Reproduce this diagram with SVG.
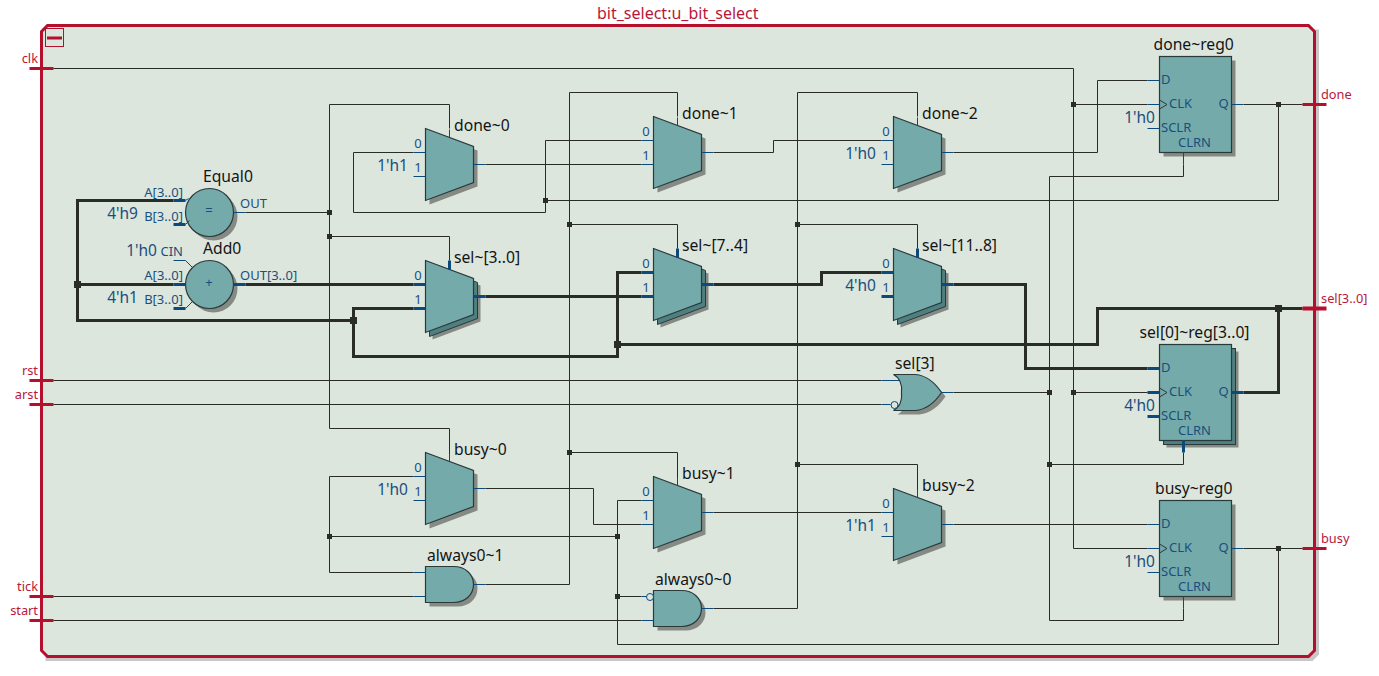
<svg xmlns="http://www.w3.org/2000/svg" xmlns:xlink="http://www.w3.org/1999/xlink" width="1379" height="676" viewBox="0 0 1379 676">
<style>
text{font-family:"Noto Sans","Open Sans","Liberation Sans",sans-serif;transform:translate(-.5px,-1px)}
.bg{fill:#dde6dd}
.frame{fill:#dde6dd;stroke:#b50f2e;stroke-width:3}
.fshadow{fill:#c8c8c8}
.w{fill:none;stroke:#2a2c28;stroke-width:1}
.t{fill:none;stroke:#2a2c28;stroke-width:3}
.j{fill:#2a2c28}
.body{fill:#74aaaa;stroke:#2a3a3a;stroke-width:1.2}
.stack{fill:#4f7f80;stroke:#2a3a3a;stroke-width:1}
.sh{fill:#868a84;stroke:none}
.s{fill:none;stroke:#0b4a7a;stroke-width:1}
.S{fill:none;stroke:#0b4a7a;stroke-width:3}
.port{stroke:#b50f2e;stroke-width:3;fill:none}
.portb{stroke:#b50f2e;stroke-width:4;fill:none}
.name{font-size:15.700px;fill:#141414}
.pin{font-size:13px;fill:#1a4f7d}
.const{font-size:15.500px;fill:#1a4f7d}
.plabel{font-size:12.800px;fill:#b8173a}
.title{font-size:16px;fill:#b8173a}
.e{text-anchor:end}
.m{text-anchor:middle}
.bub{fill:#dde6dd;stroke:#0b4a7a;stroke-width:1}
</style>
<defs>
<path id="mux" d="M0,0L48,18V54L0,72Z"/>
<rect id="ff" width="72" height="96"/>
<circle id="cir" r="24"/>
<path id="and" d="M0,0H28C40,0 48,8 48,18C48,28 40,36 28,36H0Z"/>
<path id="or" d="M0,0C6,3 9,10 8,18C9,26 6,33 0,36H22C33,35 42,27 48,18C42,9 33,1 22,0Z"/>
<path id="clk" d="M0,-4.500L7.500,0L0,4.500"/>
<rect id="jn" x="-2.500" y="-2.500" width="5" height="5"/>
<rect id="jt" x="-3.500" y="-3.500" width="7" height="7"/>
</defs>
<g transform="translate(.5 .5)">
<g id="frame">
<path class="fshadow" d="M49,29H1318.500V654L1312,660.500H45V650H1314V29Z"/>
<path class="frame" d="M47,25H1308L1314,31V650L1308,656H47L41,650V31Z"/>
<text class="title" x="597" y="19">bit_select:u_bit_select</text>
<g id="collapse"><rect x="45" y="28" width="18" height="18" fill="none" stroke="#b50f2e"/><rect x="46.500" y="36" width="15" height="3" fill="#b50f2e"/></g>
</g>
<g id="connectors">
<path class="w" d="M53,68H1073V548H1147M1073,104H1147M1073,392H1147"/>
<path class="w" d="M53,380H881M53,404H881"/>
<path class="w" d="M53,596H413M53,620H641"/>
<path class="w" d="M449,128V104H329V428H449V461M329,236H449V260"/>
<path class="w" d="M245,212H329"/>
<path class="w" d="M413,152H353V212H545V140H641M545,200H1278M1278,104V200"/>
<path class="w" d="M485,164H641"/>
<path class="w" d="M713,152H773V140H881"/>
<path class="w" d="M953,152H1097V80H1147"/>
<path class="w" d="M677,116V92H569V584H485M569,224H677V248M569,452H677V485"/>
<path class="w" d="M917,116V92H797V608H713M797,224H917V248M797,464H917V497"/>
<path class="w" d="M1183,164V176H1049V620H1183V608M1049,464H1183V452"/>
<path class="w" d="M953,392H1049"/>
<path class="w" d="M1243,104H1302M1243,548H1302"/>
<path class="w" d="M413,476H329V572H413M329,536H617"/>
<path class="w" d="M641,500H617V644H1278V548M617,596H641"/>
<path class="w" d="M485,488H593V524H641"/>
<path class="w" d="M713,512H881"/>
<path class="w" d="M953,524H1147"/>
<path class="t" d="M173,200H77V320H353M77,284H173"/>
<path class="t" d="M245,284H413"/>
<path class="t" d="M413,308H353V356H617V272H641"/>
<path class="t" d="M617,344H1097V308H1302M1278,308V392H1243"/>
<path class="t" d="M485,296H641"/>
<path class="t" d="M713,284H821V272H881"/>
<path class="t" d="M953,284H1025V368H1147"/>
<g class="j">
<use xlink:href="#jn" href="#jn" x="329" y="212"/><use xlink:href="#jn" href="#jn" x="329" y="236"/><use xlink:href="#jn" href="#jn" x="329" y="536"/>
<use xlink:href="#jn" href="#jn" x="545" y="200"/><use xlink:href="#jn" href="#jn" x="569" y="224"/><use xlink:href="#jn" href="#jn" x="569" y="452"/>
<use xlink:href="#jn" href="#jn" x="617" y="536"/><use xlink:href="#jn" href="#jn" x="617" y="596"/>
<use xlink:href="#jn" href="#jn" x="797" y="224"/><use xlink:href="#jn" href="#jn" x="797" y="464"/>
<use xlink:href="#jn" href="#jn" x="1049" y="392"/><use xlink:href="#jn" href="#jn" x="1049" y="464"/>
<use xlink:href="#jn" href="#jn" x="1073" y="104"/><use xlink:href="#jn" href="#jn" x="1073" y="392"/>
<use xlink:href="#jn" href="#jn" x="1278" y="104"/><use xlink:href="#jn" href="#jn" x="1278" y="548"/>
<use xlink:href="#jt" href="#jt" x="77" y="284"/><use xlink:href="#jt" href="#jt" x="353" y="320"/><use xlink:href="#jt" href="#jt" x="617" y="344"/><use xlink:href="#jt" href="#jt" x="1278" y="308"/>
</g>
</g>
<g id="ports">
<g id="port_clk"><path class="port" d="M29,68H53"/><text class="plabel e" x="38" y="63">clk</text></g>
<g id="port_rst"><path class="port" d="M29,380H53"/><text class="plabel e" x="38" y="375">rst</text></g>
<g id="port_arst"><path class="port" d="M29,404H53"/><text class="plabel e" x="38" y="399">arst</text></g>
<g id="port_tick"><path class="port" d="M29,596H53"/><text class="plabel e" x="38" y="591">tick</text></g>
<g id="port_start"><path class="port" d="M29,620H53"/><text class="plabel e" x="38" y="615">start</text></g>
<g id="port_done"><path class="port" d="M1302,104H1326"/><text class="plabel" x="1321" y="99">done</text></g>
<g id="port_sel"><path class="portb" d="M1302,308H1326"/><text class="plabel" x="1321" y="303">sel[3..0]</text></g>
<g id="port_busy"><path class="port" d="M1302,548H1326"/><text class="plabel" x="1321" y="543">busy</text></g>
</g>
<g id="Equal0" transform="translate(209,212)">
<use xlink:href="#cir" href="#cir" class="sh" x="4" y="4"/><use xlink:href="#cir" href="#cir" class="body"/>
<path class="s" d="M-24,-12L-21,-14M-24,12L-20,8M24,0H36"/><path class="S" d="M-36,-12H-24M-36,12H-24"/>
<text class="pin m" y="3">=</text>
<text class="name" x="-6" y="-30">Equal0</text>
<text class="pin e" x="-26" y="-15">A[3..0]</text><text class="pin e" x="-26" y="9">B[3..0]</text><text class="pin" x="31" y="-4">OUT</text>
<text class="const e" x="-71" y="7">4'h9</text>
</g>
<g id="Add0" transform="translate(209,284)">
<use xlink:href="#cir" href="#cir" class="sh" x="4" y="4"/><use xlink:href="#cir" href="#cir" class="body"/>
<path class="s" d="M-36,-24H-24L-17,-17M-24,24L-17,17"/><path class="S" d="M-36,0H-24M-36,24H-24M24,0H36"/>
<text class="pin m" y="3">+</text>
<text class="name" x="-6" y="-30">Add0</text>
<text class="pin e" x="-26" y="-28">CIN</text><text class="pin e" x="-26" y="-4">A[3..0]</text><text class="pin e" x="-26" y="20">B[3..0]</text><text class="pin" x="31" y="-4">OUT[3..0]</text>
<text class="const e" x="-52" y="-28">1'h0</text><text class="const e" x="-71" y="19">4'h1</text>
</g>
<g id="done_0" transform="translate(425,128)">
<use xlink:href="#mux" href="#mux" class="sh" x="4" y="4"/><use xlink:href="#mux" href="#mux" class="body"/>
<path class="s" d="M-12,24H0M-12,48H0M48,36H60M24,1V9"/>
<text class="pin m" x="-7" y="20">0</text><text class="pin m" x="-7" y="44">1</text><text class="const e" x="-17" y="43">1'h1</text><text class="name" x="29" y="3">done~0</text>
</g>
<g id="done_1" transform="translate(653,116)">
<use xlink:href="#mux" href="#mux" class="sh" x="4" y="4"/><use xlink:href="#mux" href="#mux" class="body"/>
<path class="s" d="M-12,24H0M-12,48H0M48,36H60M24,1V9"/>
<text class="pin m" x="-7" y="20">0</text><text class="pin m" x="-7" y="44">1</text><text class="name" x="29" y="3">done~1</text>
</g>
<g id="done_2" transform="translate(893,116)">
<use xlink:href="#mux" href="#mux" class="sh" x="4" y="4"/><use xlink:href="#mux" href="#mux" class="body"/>
<path class="s" d="M-12,24H0M-12,48H0M48,36H60M24,1V9"/>
<text class="pin m" x="-7" y="20">0</text><text class="pin m" x="-7" y="44">1</text><text class="const e" x="-17" y="43">1'h0</text><text class="name" x="29" y="3">done~2</text>
</g>
<g id="sel_3_0" transform="translate(425,260)">
<use xlink:href="#mux" href="#mux" class="sh" x="7" y="7"/><use xlink:href="#mux" href="#mux" class="stack" x="4" y="4"/><use xlink:href="#mux" href="#mux" class="body"/>
<path class="S" d="M-12,24H0M-12,48H0M48,36H60M24,0V9"/>
<text class="pin m" x="-7" y="20">0</text><text class="pin m" x="-7" y="44">1</text><text class="name" x="29" y="3">sel~[3..0]</text>
</g>
<g id="sel_7_4" transform="translate(653,248)">
<use xlink:href="#mux" href="#mux" class="sh" x="7" y="7"/><use xlink:href="#mux" href="#mux" class="stack" x="4" y="4"/><use xlink:href="#mux" href="#mux" class="body"/>
<path class="S" d="M-12,24H0M-12,48H0M48,36H60M24,0V9"/>
<text class="pin m" x="-7" y="20">0</text><text class="pin m" x="-7" y="44">1</text><text class="name" x="29" y="3">sel~[7..4]</text>
</g>
<g id="sel_11_8" transform="translate(893,248)">
<use xlink:href="#mux" href="#mux" class="sh" x="7" y="7"/><use xlink:href="#mux" href="#mux" class="stack" x="4" y="4"/><use xlink:href="#mux" href="#mux" class="body"/>
<path class="S" d="M-12,24H0M-12,48H0M48,36H60M24,0V9"/>
<text class="pin m" x="-7" y="20">0</text><text class="pin m" x="-7" y="44">1</text><text class="const e" x="-17" y="43">4'h0</text><text class="name" x="29" y="3">sel~[11..8]</text>
</g>
<g id="busy_0" transform="translate(425,452)">
<use xlink:href="#mux" href="#mux" class="sh" x="4" y="4"/><use xlink:href="#mux" href="#mux" class="body"/>
<path class="s" d="M-12,24H0M-12,48H0M48,36H60M24,1V9"/>
<text class="pin m" x="-7" y="20">0</text><text class="pin m" x="-7" y="44">1</text><text class="const e" x="-17" y="43">1'h0</text><text class="name" x="29" y="3">busy~0</text>
</g>
<g id="busy_1" transform="translate(653,476)">
<use xlink:href="#mux" href="#mux" class="sh" x="4" y="4"/><use xlink:href="#mux" href="#mux" class="body"/>
<path class="s" d="M-12,24H0M-12,48H0M48,36H60M24,1V9"/>
<text class="pin m" x="-7" y="20">0</text><text class="pin m" x="-7" y="44">1</text><text class="name" x="29" y="3">busy~1</text>
</g>
<g id="busy_2" transform="translate(893,488)">
<use xlink:href="#mux" href="#mux" class="sh" x="4" y="4"/><use xlink:href="#mux" href="#mux" class="body"/>
<path class="s" d="M-12,24H0M-12,48H0M48,36H60M24,1V9"/>
<text class="pin m" x="-7" y="20">0</text><text class="pin m" x="-7" y="44">1</text><text class="const e" x="-17" y="43">1'h1</text><text class="name" x="29" y="3">busy~2</text>
</g>
<g id="always0_1" transform="translate(425,566)">
<use xlink:href="#and" href="#and" class="sh" x="4" y="4"/><use xlink:href="#and" href="#and" class="body"/>
<path class="s" d="M-12,6H0M-12,30H0M48,18H60"/>
<text class="name" x="2" y="-5">always0~1</text>
</g>
<g id="always0_0" transform="translate(653,590)">
<use xlink:href="#and" href="#and" class="sh" x="4" y="4"/><use xlink:href="#and" href="#and" class="body"/>
<path class="s" d="M-12,6H-7M-12,30H0M48,18H60"/><circle class="bub" cx="-3.500" cy="6.500" r="3.500"/>
<text class="name" x="2" y="-5">always0~0</text>
</g>
<g id="sel_3" transform="translate(893,374)">
<use xlink:href="#or" href="#or" class="sh" x="4" y="4"/><use xlink:href="#or" href="#or" class="body"/>
<path class="s" d="M-12,6H6M-12,30H-3M48,18H60"/><circle class="bub" cx="1" cy="30.500" r="3.500"/>
<text class="name" x="2" y="-5">sel[3]</text>
</g>
<g id="done_reg0" transform="translate(1159,56)">
<use xlink:href="#ff" href="#ff" class="sh" x="4" y="4"/><use xlink:href="#ff" href="#ff" class="body"/>
<path class="s" d="M-12,24H0M-12,48H0M-12,72H0M72,48H84M24,96V108"/><use xlink:href="#clk" href="#clk" y="48" fill="none" stroke="#2a3a3a"/>
<text class="pin" x="2" y="28">D</text><text class="pin" x="10" y="52">CLK</text><text class="pin" x="2" y="76">SCLR</text><text class="pin" x="19" y="91">CLRN</text><text class="pin" x="59.500" y="52">Q</text>
<text class="const e" x="-4" y="67">1'h0</text><text class="name" x="-5.500" y="-6">done~reg0</text>
</g>
<g id="sel_reg" transform="translate(1159,344)">
<use xlink:href="#ff" href="#ff" class="sh" x="7" y="7"/><use xlink:href="#ff" href="#ff" class="stack" x="4" y="4"/><use xlink:href="#ff" href="#ff" class="body"/>
<path class="S" d="M-12,24H0M-12,48H0M-12,72H0M72,48H84M24,96V108"/><use xlink:href="#clk" href="#clk" y="48" fill="none" stroke="#2a3a3a"/>
<text class="pin" x="2" y="28">D</text><text class="pin" x="10" y="52">CLK</text><text class="pin" x="2" y="76">SCLR</text><text class="pin" x="19" y="91">CLRN</text><text class="pin" x="59.500" y="52">Q</text>
<text class="const e" x="-4" y="67">4'h0</text><text class="name" x="-19.500" y="-6">sel[0]~reg[3..0]</text>
</g>
<g id="busy_reg0" transform="translate(1159,500)">
<use xlink:href="#ff" href="#ff" class="sh" x="4" y="4"/><use xlink:href="#ff" href="#ff" class="body"/>
<path class="s" d="M-12,24H0M-12,48H0M-12,72H0M72,48H84M24,96V108"/><use xlink:href="#clk" href="#clk" y="48" fill="none" stroke="#2a3a3a"/>
<text class="pin" x="2" y="28">D</text><text class="pin" x="10" y="52">CLK</text><text class="pin" x="2" y="76">SCLR</text><text class="pin" x="19" y="91">CLRN</text><text class="pin" x="59.500" y="52">Q</text>
<text class="const e" x="-4" y="67">1'h0</text><text class="name" x="-4" y="-6">busy~reg0</text>
</g>
</g>
</svg>
